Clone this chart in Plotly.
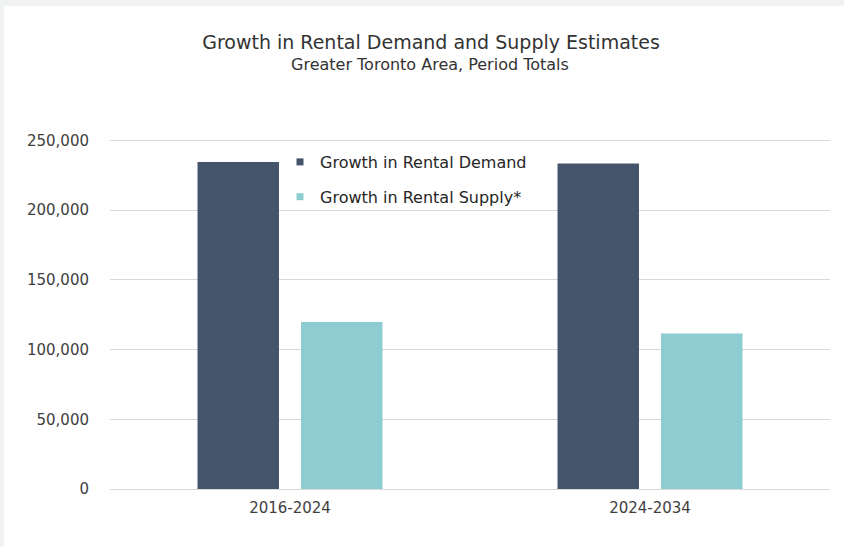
import plotly.graph_objects as go

# Period totals for the Greater Toronto Area
periods = ["2016-2024", "2024-2034"]
rental_demand = [234500, 233500]
rental_supply = [119800, 111500]

series_names = ["Growth in Rental Demand", "Growth in Rental Supply*"]
series_colors = ["#44546A", "#8DCCD0"]

y_tick_values = [0, 50000, 100000, 150000, 200000, 250000]
y_tick_labels = ["0", "50,000", "100,000", "150,000", "200,000", "250,000"]

W, H = 844, 547
M_L, M_R, M_T, M_B = 110, 14, 103, 58
PW, PH = W - M_L - M_R, H - M_T - M_B

FONT = "DejaVu Sans"
TEXT = "#404040"


def px_x(px):
    return (px - M_L) / PW


def px_y(py):
    return (H - M_B - py) / PH


fig = go.Figure()

for name, vals, color in zip(series_names, [rental_demand, rental_supply], series_colors):
    fig.add_trace(go.Bar(
        x=periods, y=vals, name=name, marker_color=color,
        marker_line_width=0, showlegend=False,
    ))

# small square legend keys
for i, (name, color) in enumerate(zip(series_names, series_colors)):
    fig.add_trace(go.Scatter(
        x=[None], y=[None], mode="markers", name=name,
        marker=dict(symbol="square", size=7, color=color),
        legendgroup=f"g{i}",
    ))

# light frame along the top and left edges
frame = "#F1F2F2"
fig.add_shape(type="rect", xref="paper", yref="paper", layer="below",
              x0=px_x(0), x1=px_x(W), y0=px_y(6), y1=px_y(0),
              fillcolor=frame, line_width=0)
fig.add_shape(type="rect", xref="paper", yref="paper", layer="below",
              x0=px_x(0), x1=px_x(4), y0=px_y(H), y1=px_y(0),
              fillcolor=frame, line_width=0)

fig.add_annotation(
    text="Greater Toronto Area, Period Totals",
    xref="paper", yref="paper", x=px_x(430), y=px_y(64),
    xanchor="center", yanchor="middle", showarrow=False,
    font=dict(family=FONT, size=16, color="#333333"),
)

fig.update_layout(
    width=W, height=H,
    margin=dict(l=M_L, r=M_R, t=M_T, b=M_B),
    paper_bgcolor="white", plot_bgcolor="white",
    title=dict(
        text="Growth in Rental Demand and Supply Estimates",
        x=431 / W, xref="container", xanchor="center",
        y=1 - 42 / H, yref="container", yanchor="middle",
        font=dict(family=FONT, size=19, color="#333333"),
    ),
    barmode="group", bargap=0.425, bargroupgap=0.213,
    legend=dict(
        x=px_x(280), y=px_y(145), xanchor="left", yanchor="top",
        bgcolor="rgba(0,0,0,0)", traceorder="grouped", tracegroupgap=11,
        font=dict(family=FONT, size=16, color="#262626"),
        itemwidth=30,
    ),
    font=dict(family=FONT, color="#595959"),
)

fig.update_xaxes(
    showgrid=False, showline=False, ticks="",
    tickfont=dict(family=FONT, size=15, color="#404040"),
    ticklabelstandoff=8,
)
fig.update_yaxes(
    range=[0, 276800], tickvals=y_tick_values, ticktext=y_tick_labels,
    showgrid=True, gridcolor="#D9D9D9", gridwidth=1,
    zeroline=True, zerolinecolor="#D9D9D9", zerolinewidth=1,
    showline=False, ticks="",
    tickfont=dict(family=FONT, size=15, color="#404040"),
    ticklabelstandoff=20,
)

fig.write_html("out.html")
